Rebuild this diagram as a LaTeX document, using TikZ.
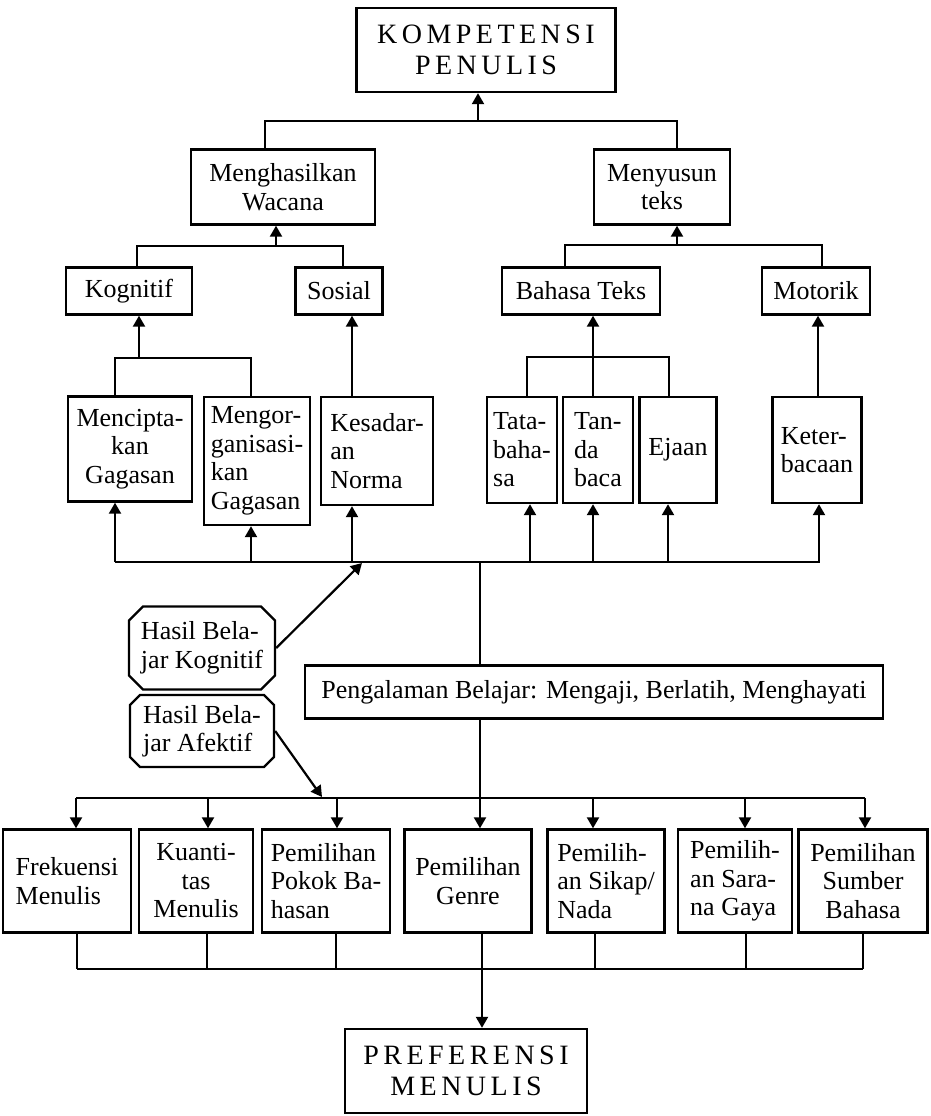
\documentclass[tikz,border=0pt]{standalone}
\usepackage{fontspec}
\setmainfont{Liberation Serif}
\newfontfamily\judulfont[LetterSpace=16]{Liberation Serif}
\usetikzlibrary{arrows.meta,shapes.misc}
\newcommand{\teks}{\fontsize{26}{28.5}\selectfont}
\newcommand{\judul}{\judulfont\fontsize{28}{31}\selectfont}

\begin{document}
\begin{tikzpicture}[x=1pt, y=-1pt, line width=2.2pt,
    box/.style={draw, line width=2.4pt, inner sep=3pt, font=\teks},
    titlebox/.style={draw, line width=2.4pt, font=\judul, align=center},
    cut/.style={box, chamfered rectangle, chamfered rectangle xsep=7pt, chamfered rectangle ysep=7pt},
    arr/.style={-{Triangle[width=12pt, length=11pt]}}]
  \useasboundingbox (0,0) rectangle (931,1116);

  % top
  \node[titlebox, minimum width=259pt, minimum height=84pt] (kp) at (486,50) {KOMPETENSI\\PENULIS};

  \node[box, align=center, minimum width=184pt, minimum height=75pt] (mw) at (283,187) {Menghasilkan\\Wacana};
  \node[box, align=center, minimum width=136pt, minimum height=75pt] (ms) at (662,187) {Menyusun\\teks};

  \node[box, minimum width=126pt, minimum height=47pt] (kg) at (129,291) {Kognitif};
  \node[box, minimum width=87pt, minimum height=47pt] (so) at (339,291) {Sosial};
  \node[box, minimum width=158pt, minimum height=47pt] (bt) at (581,291) {Bahasa Teks};
  \node[box, minimum width=108pt, minimum height=47pt] (mt) at (816,291) {Motorik};

  \node[box, align=center, minimum width=124pt, minimum height=105pt] (mg) at (130,449) {Mencipta-\\kan\\Gagasan};
  \node[box, align=left, minimum width=106pt, minimum height=128pt] (mo) at (257,461) {Mengor-\\ganisasi-\\kan\\Gagasan};
  \node[box, align=left, minimum width=112pt, minimum height=108pt] (ks) at (377,451) {Kesadar-\\an\\Norma};
  \node[box, align=left, minimum width=70pt, minimum height=106pt] (tb) at (522,450) {Tata-\\baha-\\sa};
  \node[box, align=left, minimum width=70pt, minimum height=106pt] (td) at (598,450) {Tan-\\da\\baca};
  \node[box, minimum width=77pt, minimum height=106pt] (ej) at (678,450) {Ejaan};
  \node[box, align=left, minimum width=89pt, minimum height=106pt] (kb) at (817,450) {Keter-\\bacaan};

  % middle
  \node[cut, align=left, minimum width=146pt, minimum height=83pt] (hk) at (202,648) {Hasil Bela-\\jar Kognitif};
  \node[cut, align=left, minimum width=144pt, minimum height=72pt, chamfered rectangle xsep=5pt, chamfered rectangle ysep=5pt] (ha) at (202,731) {Hasil Bela-\\jar Afektif};
  \node[box, minimum width=578pt, minimum height=53pt] (pb) at (594,692) {Pengalaman Belajar: Mengaji, Berlatih, Menghayati};

  % bottom
  \node[box, align=left, minimum width=128pt, minimum height=103pt] (fm) at (67,881) {Frekuensi\\Menulis};
  \node[box, align=center, minimum width=114pt, minimum height=103pt] (km) at (196,881) {Kuanti-\\tas\\Menulis};
  \node[box, align=left, minimum width=128pt, minimum height=103pt] (pp) at (326,881) {Pemilihan\\Pokok Ba-\\hasan};
  \node[box, align=center, minimum width=127pt, minimum height=103pt] (pg) at (468,881) {Pemilihan\\Genre};
  \node[box, align=left, minimum width=117pt, minimum height=103pt] (ps) at (606,881) {Pemilih-\\an Sikap/\\Nada};
  \node[box, align=left, minimum width=114pt, minimum height=103pt] (pn) at (735,881) {Pemilih-\\an Sara-\\na Gaya};
  \node[box, align=center, minimum width=129pt, minimum height=103pt] (sb) at (863,881) {Pemilihan\\Sumber\\Bahasa};

  \node[titlebox, minimum width=242pt, minimum height=84pt] (pm) at (466,1071) {PREFERENSI\\MENULIS};

  % brackets going up
  \coordinate (b0l) at (265,121); \coordinate (b0r) at (677,121); \coordinate (b0m) at (478,121);
  \draw (b0l |- mw.north) -- (b0l) -- (b0r) -- (b0r |- ms.north);
  \draw[arr] (b0m) -- (b0m |- kp.south);

  \coordinate (b1l) at (137,246); \coordinate (b1r) at (343,246); \coordinate (b1m) at (276,246);
  \draw (b1l |- kg.north) -- (b1l) -- (b1r) -- (b1r |- so.north);
  \draw[arr] (b1m) -- (b1m |- mw.south);

  \coordinate (b2l) at (565,245); \coordinate (b2r) at (822,245); \coordinate (b2m) at (677,245);
  \draw (b2l |- bt.north) -- (b2l) -- (b2r) -- (b2r |- mt.north);
  \draw[arr] (b2m) -- (b2m |- ms.south);

  \coordinate (b3l) at (115,358); \coordinate (b3r) at (251,358); \coordinate (b3m) at (139,358);
  \draw (b3l |- mg.north) -- (b3l) -- (b3r) -- (b3r |- mo.north);
  \draw[arr] (b3m) -- (b3m |- kg.south);

  \coordinate (b4) at (352,350);
  \draw[arr] (b4 |- ks.north) -- (b4 |- so.south);

  \coordinate (b5l) at (527,357); \coordinate (b5r) at (669,357); \coordinate (b5m) at (593,357);
  \draw (b5l |- tb.north) -- (b5l) -- (b5r) -- (b5r |- ej.north);
  \draw[arr] (b5m |- td.north) -- (b5m |- bt.south);

  \coordinate (b6) at (818,350);
  \draw[arr] (b6 |- kb.north) -- (b6 |- mt.south);

  % learning bus
  \coordinate (busAl) at (115,562); \coordinate (busAr) at (820,562);
  \draw (busAl) -- (busAr);
  \foreach \n/\d in {mg/-15, mo/-6, ks/-25, tb/8, td/-5, ej/-10, kb/2}{
    \coordinate (p) at ([xshift=\d pt]\n.south);
    \draw[arr] (busAl -| p) -- (p);
  }

  \coordinate (hkEnd) at (362,563);
  \coordinate (haEnd) at (322,797);
  \draw[arr] (hk.east) -- (hkEnd);
  \draw[arr] (ha.east) -- (haEnd);

  \coordinate (mainA) at (480,562);
  \draw (mainA) -- (mainA |- pb.north);
  \draw[arr] (mainA |- pb.south) -- (mainA |- pg.north);

  % preference bus
  \coordinate (busBl) at (76,798); \coordinate (busBr) at (865,798);
  \draw (busBl) -- (busBr);
  \foreach \n/\d in {fm/9, km/12, pp/11, ps/-13, pn/10, sb/2}{
    \coordinate (p) at ([xshift=\d pt]\n.north);
    \draw[arr] (busBl -| p) -- (p);
  }

  \coordinate (busCl) at (77,969); \coordinate (busCr) at (863,969);
  \draw (busCl) -- (busCr);
  \foreach \n/\d in {fm/10, km/11, pp/10, pg/14, ps/-11, pn/11, sb/0}{
    \coordinate (p) at ([xshift=\d pt]\n.south);
    \draw (p) -- (busCl -| p);
  }
  \coordinate (busCm) at (482,969);
  \draw[arr] (busCm) -- (busCm |- pm.north);
\end{tikzpicture}
\end{document}
